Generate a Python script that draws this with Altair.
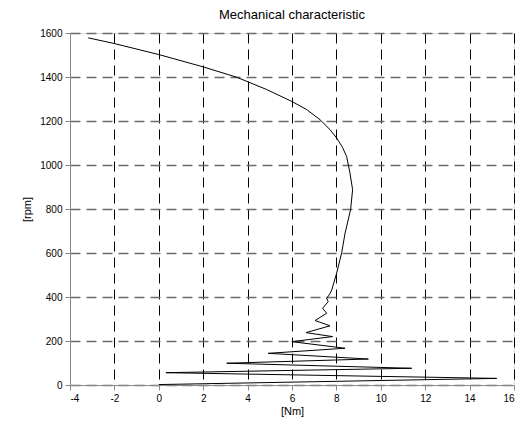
import altair as alt
import pandas as pd

# Mechanical characteristic: torque [Nm] vs speed [rpm], in time order
torque = [0.0, 15.22, 0.32, 11.39, 3.06, 9.44, 4.93, 8.39, 5.99, 7.83, 6.63, 7.71,
          7.04, 7.56, 7.38, 7.63, 7.56, 7.68, 7.79, 8.01, 8.24, 8.39, 8.64, 8.73,
          8.61, 8.46, 8.27, 8.01, 7.71, 7.26, 6.66, 5.99, 4.86, 3.51, 2.0, 0.0, -2.0, -3.18]
speed = [2, 30, 56, 76, 99, 118, 144, 167, 197, 220, 238, 269,
         293, 326, 349, 379, 395, 410, 432, 508, 602, 690, 797, 888,
         964, 1039, 1081, 1123, 1161, 1206, 1252, 1289, 1343, 1399, 1446, 1502, 1552, 1578]

x_ticks = [-4, -2, 0, 2, 4, 6, 8, 10, 12, 14, 16]
y_ticks = [0, 200, 400, 600, 800, 1000, 1200, 1400, 1600]

df = pd.DataFrame({"torque": torque, "speed": speed, "i": list(range(len(torque)))})

FONT = "Liberation Sans"
FS = 13

line = alt.Chart(df).mark_line(color="black", strokeWidth=1, clip=True).encode(
    x=alt.X("torque:Q",
            scale=alt.Scale(domain=[-4, 16], nice=False, zero=False),
            axis=alt.Axis(values=x_ticks, title="[Nm]", grid=True,
                          gridColor="black", gridDash=[10, 6], gridWidth=1,
                          labelExpr="'' + datum.value",
                          labelPadding=3, titlePadding=2,
                          titleFontWeight="normal")),
    y=alt.Y("speed:Q",
            scale=alt.Scale(domain=[0, 1600], nice=False, zero=False),
            axis=alt.Axis(values=y_ticks, title="[rpm]", grid=True,
                          gridColor="#6a6a6a", gridDash=[10, 6], gridWidth=1.5,
                          labelExpr="'' + datum.value",
                          labelPadding=3, titlePadding=7,
                          titleFontWeight="normal")),
    order="i:Q",
)

chart = line.properties(
    width=444,
    height=352,
    title=alt.TitleParams("Mechanical characteristic", font=FONT, fontSize=FS,
                          fontWeight="normal", color="black", anchor="middle",
                          frame="group", offset=6),
    autosize=alt.AutoSizeParams(type="none"),
    padding={"left": 62, "top": 25, "right": 4, "bottom": 36},
).configure_view(
    stroke="black", strokeWidth=1
).configure_axis(
    domainColor="black", ticks=False, labelFont=FONT, labelFontSize=FS,
    labelColor="black", titleFont=FONT, titleFontSize=FS, titleFontWeight="normal",
    titleColor="black", labelFlush=False
).configure(background="white")

chart.save("out.html", embed_options={"renderer": "svg", "actions": False})
